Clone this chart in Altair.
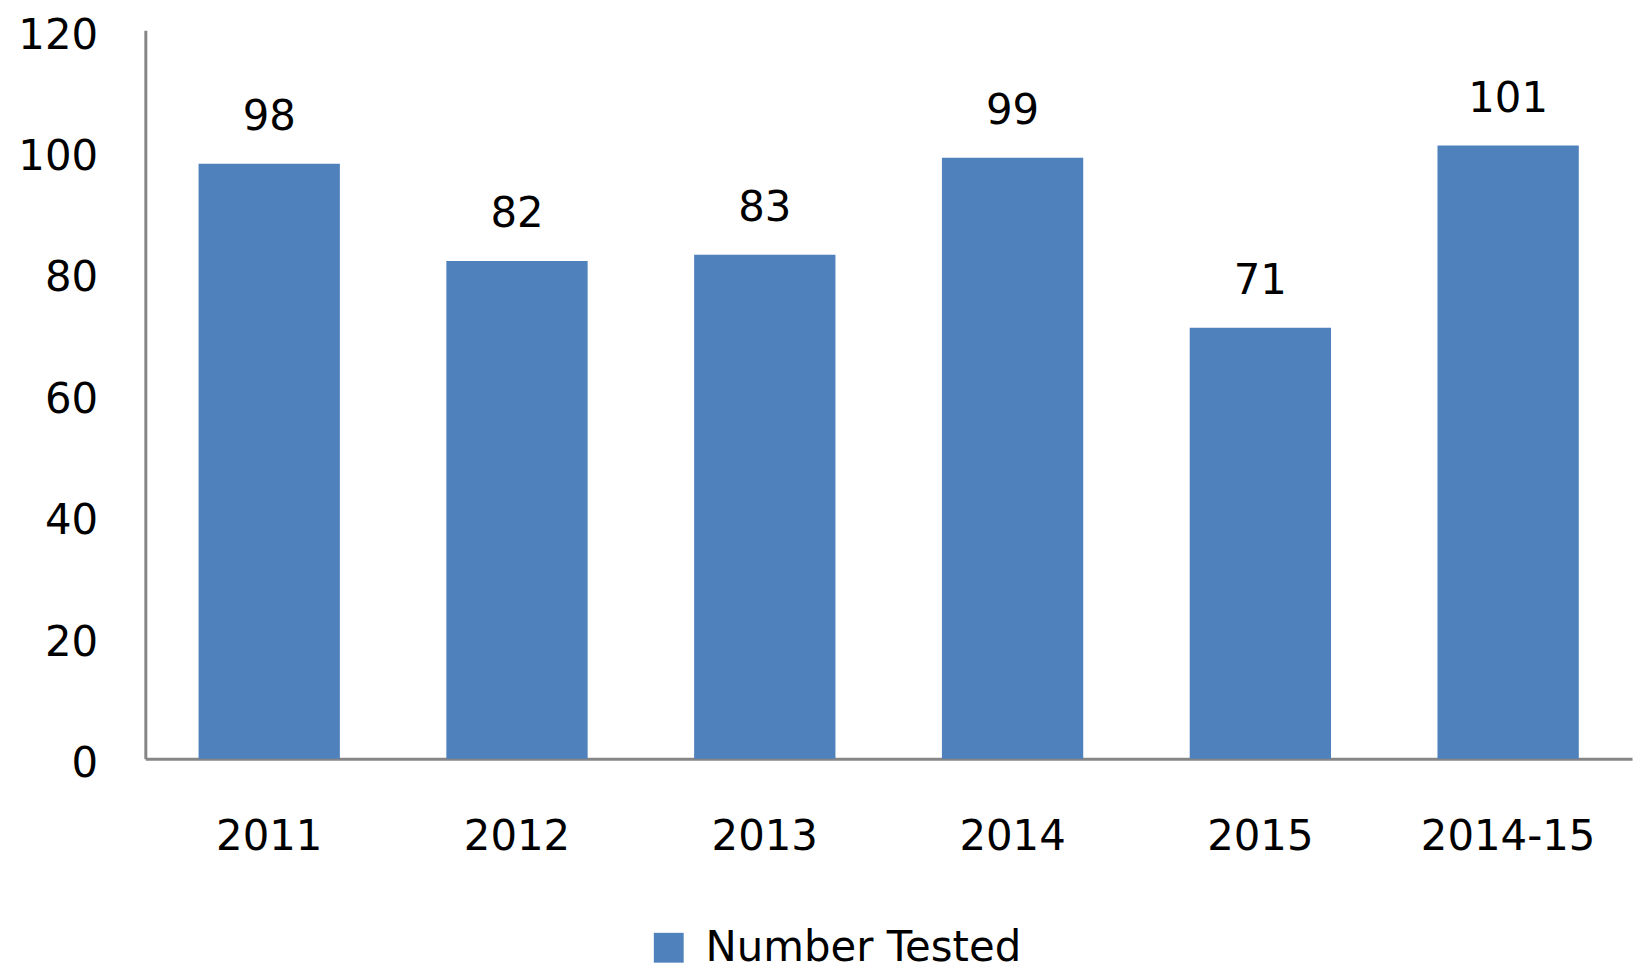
import altair as alt
import pandas as pd

categories = ["2011", "2012", "2013", "2014", "2015", "2014-15"]
values = [98, 82, 83, 99, 71, 101]
series = ["Number Tested"] * 6
y_ticks = [0, 20, 40, 60, 80, 100, 120]

df = pd.DataFrame({"year": categories, "value": values, "series": series})

FONT = "DejaVu Sans"
FS = 42

x = alt.X("year:N", sort=categories, title=None,
          scale=alt.Scale(paddingInner=0.43, paddingOuter=0.215),
          axis=alt.Axis(labelAngle=0, labelFont=FONT, labelFontSize=FS, labelColor="#000000",
                        ticks=False, labelPadding=58, domainColor="#868686", domainWidth=3,
                        grid=False))
y = alt.Y("value:Q", title=None,
          scale=alt.Scale(domain=[0, 120], nice=False),
          axis=alt.Axis(values=y_ticks, labelFont=FONT, labelFontSize=FS, labelColor="#000000",
                        ticks=False, labelPadding=48, domainColor="#868686", domainWidth=3,
                        grid=False, labelOffset=5))

bars = alt.Chart(df).mark_bar(size=142).encode(
    x=x, y=y,
    color=alt.Color("series:N", title=None,
                    scale=alt.Scale(domain=["Number Tested"], range=["#4F81BD"]),
                    legend=alt.Legend(orient="none", legendX=505, legendY=901,
                                      symbolType="square", symbolSize=900,
                                      symbolStrokeWidth=0, labelFont=FONT,
                                      labelFontSize=FS, labelColor="#000000",
                                      labelOffset=16, padding=0, labelLimit=0))
)

labels = alt.Chart(df).mark_text(font=FONT, fontSize=FS, color="#000000",
                                 baseline="alphabetic", dy=-34).encode(
    x=alt.X("year:N", sort=categories),
    y=alt.Y("value:Q"),
    text=alt.Text("value:Q")
)

chart = alt.layer(bars, labels).properties(
    width=1494, height=732,
    padding={"left": 138, "top": 20, "right": 6, "bottom": 212},
    autosize=alt.AutoSizeParams(type="none"),
    background="#ffffff"
).configure_view(stroke=None, strokeWidth=0)

chart.save("out.html", embed_options={"renderer": "svg", "actions": False})
